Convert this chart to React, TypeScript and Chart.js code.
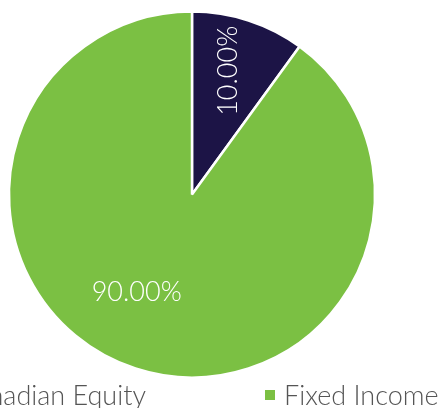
import React, { useEffect, useRef } from "react";
import { Chart, registerables } from "chart.js";

Chart.register(...registerables);

const categories = ["Canadian Equity", "Fixed Income"];
const values = [10, 90];
const valueLabels = ["10.00%", "90.00%"];

const sliceColors = ["#1c1446", "#7bc043"];
const labelAngleShiftDeg = [-1.5, 11.6];
const labelRadiusFrac = [0.705, 0.612];
const labelRotationDeg = [-90, 0];

const FONT = "Lato, 'Open Sans', sans-serif";

const labelPlugin = {
  id: "sliceLabels",
  afterDatasetsDraw(chart: any) {
    const ctx = chart.ctx;
    const meta = chart.getDatasetMeta(0);
    meta.data.forEach((arc: any, i: number) => {
      const p = arc.getProps(["x", "y", "startAngle", "endAngle", "outerRadius"], true);
      const mid = (p.startAngle + p.endAngle) / 2 + (labelAngleShiftDeg[i] * Math.PI) / 180;
      const r = p.outerRadius * labelRadiusFrac[i];
      const x = p.x + Math.cos(mid) * r;
      const y = p.y + Math.sin(mid) * r;
      ctx.save();
      ctx.translate(x, y);
      ctx.rotate((labelRotationDeg[i] * Math.PI) / 180);
      ctx.fillStyle = "#ffffff";
      ctx.font = `300 27px ${FONT}`;
      ctx.textAlign = "center";
      ctx.textBaseline = "middle";
      ctx.fillText(valueLabels[i], 0, 0);
      ctx.restore();
    });
  },
};

export default function App() {
  const canvasRef = useRef<HTMLCanvasElement | null>(null);

  useEffect(() => {
    const chart = new Chart(canvasRef.current as HTMLCanvasElement, {
      type: "pie",
      data: {
        labels: categories,
        datasets: [
          {
            data: values,
            backgroundColor: sliceColors,
            borderColor: "#ffffff",
            borderWidth: 2.5,
            hoverOffset: 0,
          },
        ],
      },
      options: {
        animation: false,
        responsive: true,
        maintainAspectRatio: false,
        radius: 183,
        layout: { padding: 0 },
        plugins: {
          legend: { display: false },
          tooltip: { enabled: false },
        },
      } as any,
      plugins: [labelPlugin],
    });
    return () => chart.destroy();
  }, []);

  return (
    <div style={{ position: "relative", width: 440, height: 408, overflow: "hidden", background: "#fff" }}>
      <style>{"body{margin:0}"}</style>
      <div style={{ position: "absolute", left: -8.5, top: 0, width: 400, height: 389 }}>
        <canvas ref={canvasRef} />
      </div>
      {categories.map((c, i) => (
        <div
          key={c}
          style={{
            position: "absolute",
            top: 381,
            ...(i === 0 ? { right: 294 } : { left: 265 }),
            display: "flex",
            alignItems: "center",
            whiteSpace: "nowrap",
            fontFamily: FONT,
            fontWeight: 300,
            fontSize: 27,
            lineHeight: "28px",
            color: "#555555",
          }}
        >
          <span style={{ display: "inline-block", width: 10, height: 10, background: sliceColors[i], marginRight: 9 }} />
          <span>{c}</span>
        </div>
      ))}
    </div>
  );
}
